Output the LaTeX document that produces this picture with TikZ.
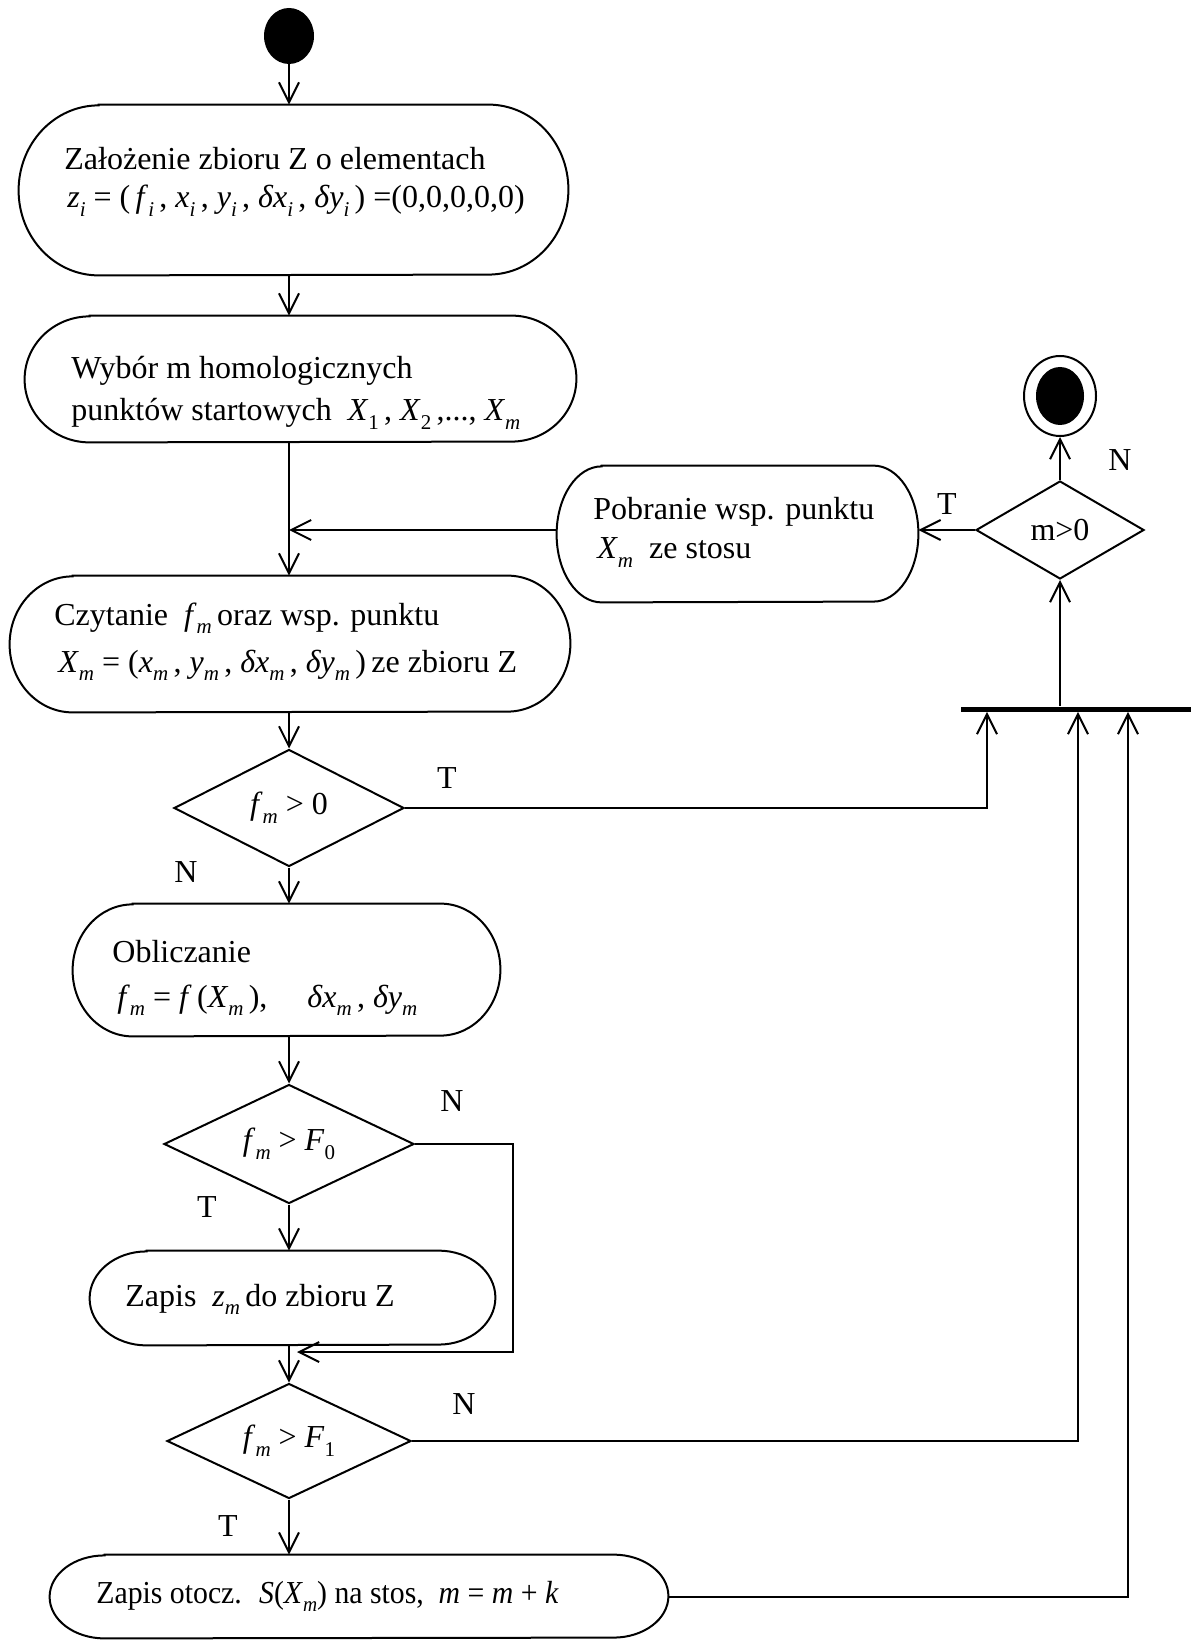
\documentclass[tikz,border=0pt]{standalone}
\usepackage{fontspec}
\setmainfont{Liberation Serif}
\usetikzlibrary{arrows.meta,shapes.geometric}
\newcommand\sbs[1]{\raisebox{-0.28em}{\fontsize{10.5}{10.5}\selectfont #1}}
\newcommand\iv[2]{\textit{#1}\sbs{\textit{#2}}}
\newcommand\stad[3]{%
  \draw[lw] ([xshift=#2]#1.north west) -- ([xshift=-#2]#1.north east)
    arc[start angle=90,end angle=-90,x radius=#2,y radius=#3]
    -- ([xshift=#2]#1.south west)
    arc[start angle=270,end angle=90,x radius=#2,y radius=#3] -- cycle;}
\begin{document}
\begin{tikzpicture}[x=0.5pt,y=-0.5pt,
  font=\fontsize{16}{19}\selectfont,
  lw/.style={line width=1pt},
  arr/.style={lw,-{Straight Barb[length=10pt,width=10pt,line width=1pt]}},
  box/.style={rectangle,draw=none,inner sep=0},
  txt/.style={anchor=base west,inner sep=0},
  dia/.style={diamond,draw,lw,aspect=2,inner sep=0},
  lab/.style={inner sep=0}]
\useasboundingbox (0,0) rectangle (1191,1641);

% start / end
\node[ellipse,fill=black,minimum width=25pt,minimum height=28pt,inner sep=0] (start) at (289,36) {};
\node[ellipse,draw,lw,minimum width=36pt,minimum height=40pt,inner sep=0] (endo) at (1060,396) {};
\node[ellipse,fill=black,minimum width=24pt,minimum height=29pt,inner sep=0] (endi) at (1060,396) {};

% boxes
\node[box,minimum width=274.5pt,minimum height=85pt] (b1) at (293.5,190) {};
\stad{b1}{40pt}{42.5pt}
\node[txt] (b1a) at (64,170) {Założenie zbioru Z o elementach};
\node[txt] (b1b) at (67,208) {\iv{z}{i} = (\,\iv{f}{i}\,, \iv{x}{i}\,, \iv{y}{i}\,, \textit{δx}\sbs{\textit{i}}\,, \textit{δy}\sbs{\textit{i}}\,) =(0,0,0,0,0)};

\node[box,minimum width=275.5pt,minimum height=63pt] (b2) at (300.5,379) {};
\stad{b2}{32.5pt}{31.5pt}
\node[txt] (b2a) at (71,379) {Wybór m homologicznych};
\node[txt] (b2b) at (71,421) {punktów startowych \ \textit{X}\sbs{1}\,, \textit{X}\sbs{2}\,,..., \textit{X}\sbs{\textit{m}}};

\node[box,minimum width=280pt,minimum height=68pt] (b3) at (290,644) {};
\stad{b3}{31.5pt}{34pt}
\node[txt] (b3a) at (54,625) {Czytanie \ \iv{f}{m}\,oraz wsp. punktu};
\node[txt] (b3b) at (58,672) {\iv{X}{m} = (\iv{x}{m}\,, \iv{y}{m}\,, \textit{δx}\sbs{\textit{m}}\,, \textit{δy}\sbs{\textit{m}}\,)\,ze zbioru Z};

\node[box,minimum width=213.5pt,minimum height=66pt] (b4) at (286.5,970) {};
\stad{b4}{30pt}{33pt}
\node[txt] (b4a) at (112,962) {Obliczanie};
\node[txt] (b4b) at (117,1007) {\iv{f}{m} = \textit{f}\,(\iv{X}{m}\,), \quad \textit{δx}\sbs{\textit{m}}\,, \textit{δy}\sbs{\textit{m}}};

\node[box,minimum width=202.5pt,minimum height=47pt] (b5) at (292.5,1298) {};
\stad{b5}{28.5pt}{23.5pt}
\node[txt] (b5a) at (125,1306) {Zapis \ \iv{z}{m}\,do zbioru Z};

\node[box,minimum width=309pt,minimum height=41.5pt] (b6) at (359,1596.5) {};
\stad{b6}{27.5pt}{20.75pt}
\node[txt] (b6a) at (96,1603) {\scalebox{0.93}[1]{Zapis otocz. \ \textit{S}(\iv{X}{m}) na stos, \ \textit{m} = \textit{m} + \textit{k}}};

\node[box,minimum width=180.5pt,minimum height=68pt] (pob) at (737.5,534) {};
\stad{pob}{22.5pt}{34pt}
\node[txt] (poba) at (593,520) {Pobranie wsp. punktu};
\node[txt] (pobb) at (597,559) {\iv{X}{m} \ ze stosu};

% diamonds
\node[dia,minimum width=115pt,minimum height=58.5pt] (d1) at (289,808) {\iv{f}{m} > 0};
\node[dia,minimum width=125pt,minimum height=59.5pt] (d2) at (289,1144) {\iv{f}{m} > \textit{F}\sbs{0}};
\node[dia,minimum width=122pt,minimum height=57.5pt] (d3) at (289,1441) {\iv{f}{m} > \textit{F}\sbs{1}};
\node[dia,minimum width=84pt,minimum height=49pt] (mgt) at (1060,530) {m>0};

% bar
\node[rectangle,fill=black,minimum width=115pt,minimum height=2.5pt,inner sep=0] (bar) at (1076,709) {};

% labels
\node[lab] (lt1) at (447,778) {T};
\node[lab] (ln1) at (186,872) {N};
\node[lab] (ln2) at (452,1101) {N};
\node[lab] (lt2) at (207,1207) {T};
\node[lab] (ln3) at (464,1404) {N};
\node[lab] (lt3) at (228,1526) {T};
\node[lab] (lnm) at (1120,460) {N};
\node[lab] (ltm) at (947,504) {T};

% coordinates
\coordinate (c1) at (987,808);
\coordinate (c2) at (513,1352);
\coordinate (c3) at (1078,1441);
\coordinate (c4) at (1128,1596.5);

% connectors
\draw[arr] (start) -- (b1.north -| start);
\draw[arr] (b1.south -| start) -- (b2.north -| start);
\draw[arr] (b2.south -| start) -- (b3.north -| start);
\draw[arr] (pob.west |- mgt) -- (start |- mgt);
\draw[arr] (b3.south -| start) -- (d1.north);
\draw[arr] (d1.east) -- (c1) -- (c1 |- bar.south);
\draw[arr] (d1.south) -- (b4.north -| start);
\draw[arr] (b4.south -| start) -- (d2.north);
\draw[arr] (d2.east) -| (c2) -- ([xshift=4pt]start |- c2);
\draw[arr] (d2.south) -- (b5.north -| start);
\draw[arr] (b5.south -| start) -- (d3.north);
\draw[arr] (d3.east) -- (c3) -- (c3 |- bar.south);
\draw[arr] (d3.south) -- (b6.north -| start);
\draw[arr] (b6.east) -- (c4) -- (c4 |- bar.south);
\draw[arr] (bar.north -| mgt) -- (mgt.south);
\draw[arr] (mgt.north) -- (endo.south);
\draw[arr] (mgt.west) -- (pob.east |- mgt);
\end{tikzpicture}
\end{document}
